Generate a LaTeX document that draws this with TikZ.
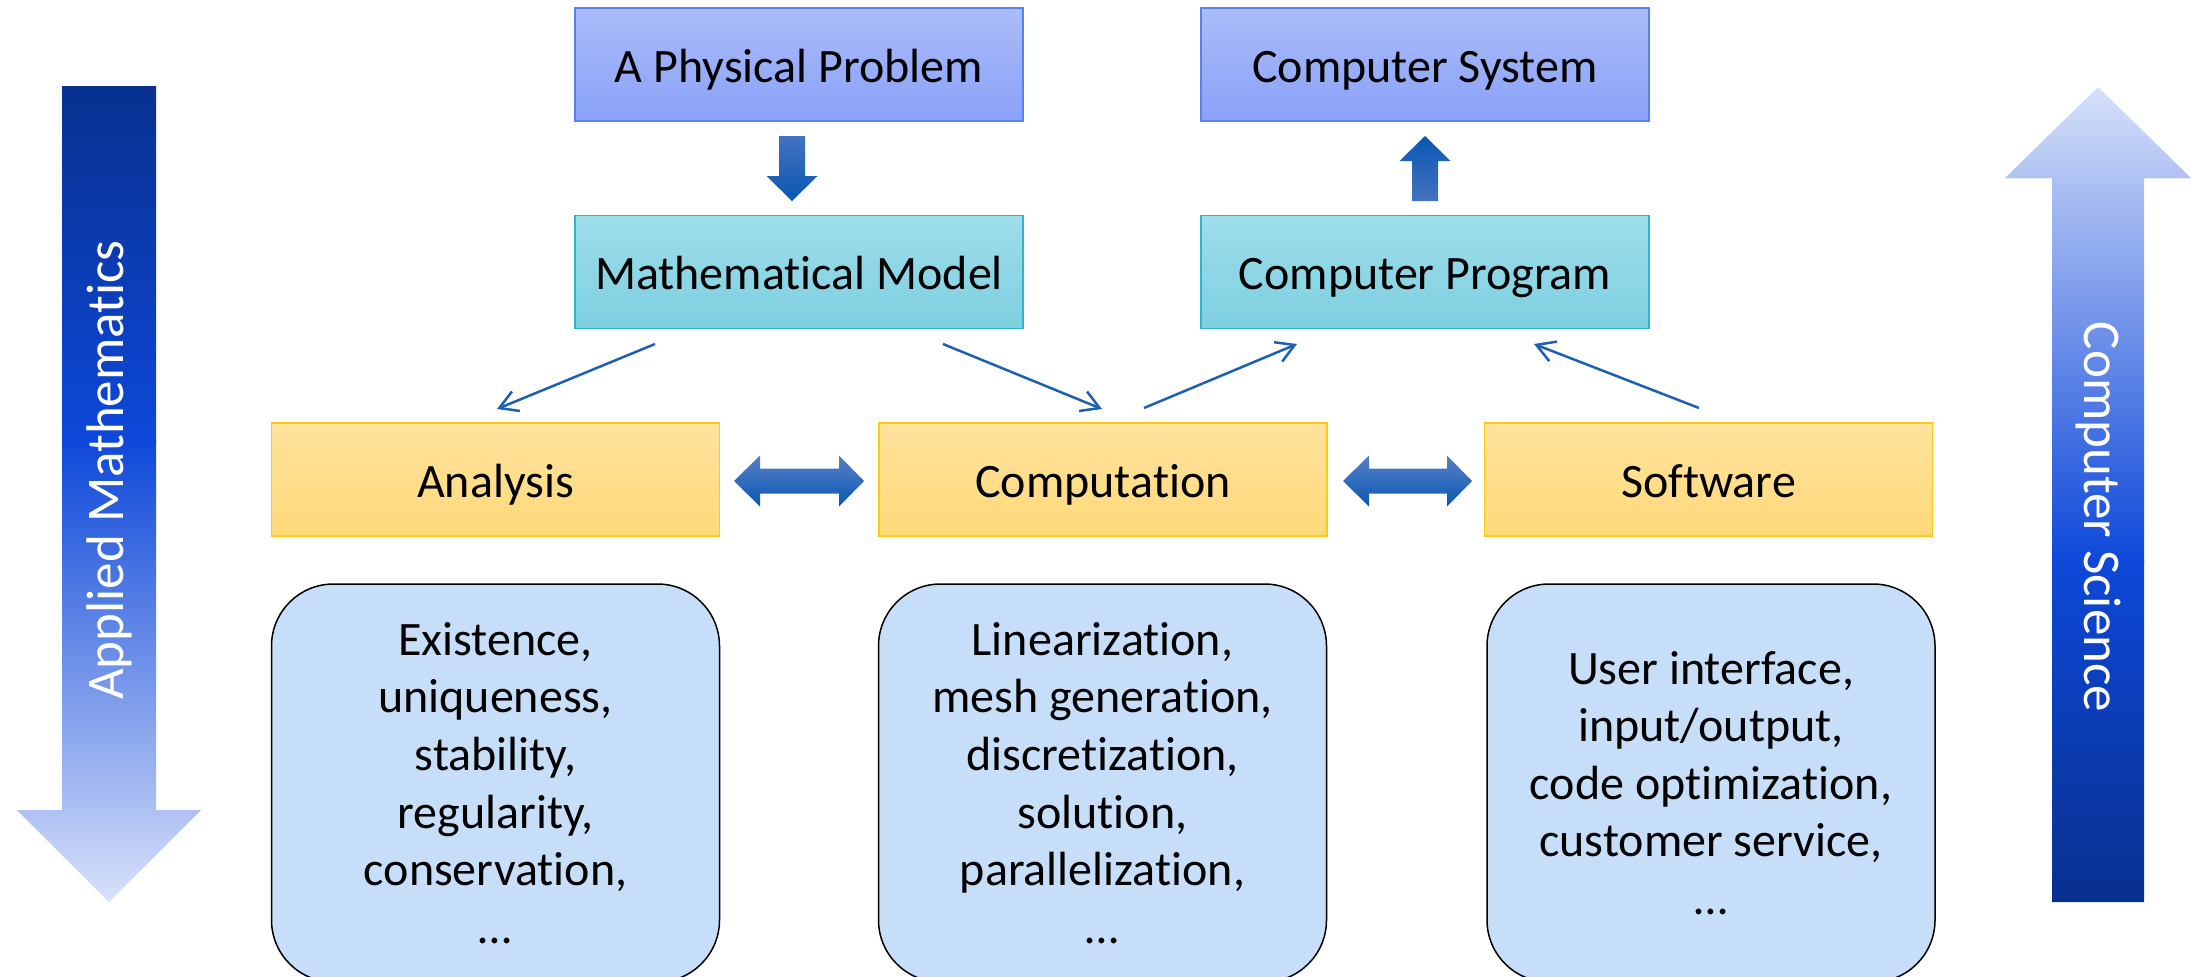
\documentclass[tikz,border=0pt]{standalone}
\usepackage{fontspec}
\setmainfont{Carlito}[Ligatures=NoCommon]
\usetikzlibrary{arrows.meta}

% box colours
\definecolor{physTop}{HTML}{AABCFA}
\definecolor{physBot}{HTML}{8AA1F7}
\definecolor{physLine}{HTML}{5A80EE}
\definecolor{modelTop}{HTML}{9FDDEA}
\definecolor{modelBot}{HTML}{7DCFE0}
\definecolor{modelLine}{HTML}{2FB5CA}
\definecolor{yelTop}{HTML}{FFE39E}
\definecolor{yelBot}{HTML}{FFD979}
\definecolor{yelLine}{HTML}{FFC914}
\definecolor{detailFill}{HTML}{C6DEF8}
% arrow colours
\definecolor{lineBlue}{HTML}{1E5FB0}
\definecolor{blockLight}{HTML}{4472C0}
\definecolor{blockDark}{HTML}{0A57B2}
\definecolor{bigNavy}{HTML}{08308E}
\definecolor{bigBright}{HTML}{0E48D9}
\definecolor{bigPale}{HTML}{AEC1F3}
\definecolor{bigFaint}{HTML}{DAE3FA}

\begin{document}
\begin{tikzpicture}[x=0.5pt,y=-0.5pt,
  txt/.style={font=\fontsize{24}{28.8}\selectfont},
  titlebox/.style={txt, minimum width=224pt, minimum height=56.5pt,
    text height=22pt, text depth=4.5pt,
    inner sep=0pt, line width=0.8pt},
  physbox/.style={titlebox, draw=physLine, top color=physTop, bottom color=physBot},
  modelbox/.style={titlebox, draw=modelLine, top color=modelTop, bottom color=modelBot},
  yelbox/.style={titlebox, draw=yelLine, top color=yelTop, bottom color=yelBot},
  detailbox/.style={txt, draw=black, line width=0.75pt, fill=detailFill,
    rounded corners=31pt, minimum width=224pt, minimum height=199pt,
    inner sep=0pt, align=center},
  thinarrow/.style={draw=lineBlue, line width=1.25pt,
    -{Straight Barb[length=9pt,width=10.5pt]}},
  blockarrow/.style={top color=blockLight, bottom color=blockDark},
  hblockarrow/.style={top color=blockLight!90, bottom color=blockDark},
  sidetext/.style={text=white, font=\fontsize{26.5}{30}\selectfont}
]
\useasboundingbox (0,0) rectangle (2191,976);

% ---- left vertical arrow: Applied Mathematics ----
\begin{scope}
  \clip (62,86) -- (156,86) -- (156,810) -- (201,810) -- (109,902)
        -- (17,810) -- (62,810) -- cycle;
  \shade[top color=bigNavy, bottom color=bigBright] (0,80) rectangle (220,442);
  \shade[top color=bigBright, bottom color=bigPale] (0,440) rectangle (220,812);
  \shade[top color=bigPale, bottom color=bigFaint] (0,810) rectangle (220,905);
\end{scope}
\node[sidetext, rotate=90] (applied) at (109,470) {Applied Mathematics};

% ---- right vertical arrow: Computer Science ----
\begin{scope}
  \clip (2052,902) -- (2052,178) -- (2005,178) -- (2098,87) -- (2191,178)
        -- (2144,178) -- (2144,902) -- cycle;
  \shade[top color=bigFaint, bottom color=bigPale] (1990,80) rectangle (2200,180);
  \shade[top color=bigPale, bottom color=bigBright] (1990,178) rectangle (2200,562);
  \shade[top color=bigBright, bottom color=bigNavy] (1990,560) rectangle (2200,905);
\end{scope}
\node[sidetext, rotate=-90] (cs) at (2098,517) {Computer Science};

% ---- boxes ----
\node[physbox] (phys) at (799,64.5) {A Physical Problem};
\node[physbox] (csys) at (1425,64.5) {Computer System};
\node[modelbox] (model) at (799,272) {Mathematical Model};
\node[modelbox] (prog) at (1425,272) {Computer Program};
\node[yelbox] (ana) at (495.5,479.5) {Analysis};
\node[yelbox] (comp) at (1103,479.5) {Computation};
\node[yelbox] (soft) at (1708.5,479.5) {Software};

\node[detailbox] (anad) at (495.5,783)
  {Existence,\\uniqueness,\\stability,\\regularity,\\conservation,\\…};
\node[detailbox] (compd) at (1102.5,783)
  {Linearization,\\mesh generation,\\discretization,\\solution,\\parallelization,\\…};
\node[detailbox] (softd) at (1711,783)
  {User interface,\\input/output,\\code optimization,\\customer service,\\…};

% ---- block arrows ----
\shade[blockarrow] (779,136) -- (805,136) -- (805,176) -- (817.5,176)
  -- (792,201) -- (766.5,176) -- (779,176) -- cycle;
\shade[top color=blockDark, bottom color=blockLight] (1412,201) -- (1412,161)
  -- (1399.5,161) -- (1425,136) -- (1450.5,161) -- (1438,161) -- (1438,201) -- cycle;
\shade[hblockarrow] (734,481) -- (760,455.5) -- (760,468.5) -- (839,468.5)
  -- (839,455.5) -- (864,481) -- (839,506.5) -- (839,493.5) -- (760,493.5)
  -- (760,506.5) -- cycle;
\shade[hblockarrow] (1343,481) -- (1369,455.5) -- (1369,468.5) -- (1447,468.5)
  -- (1447,455.5) -- (1472,481) -- (1447,506.5) -- (1447,493.5) -- (1369,493.5)
  -- (1369,506.5) -- cycle;

% ---- thin connectors ----
\coordinate (m1) at (655,344);
\coordinate (a1) at (497,409);
\coordinate (m2) at (943,344);
\coordinate (c1) at (1102,409);
\coordinate (c2) at (1144,408);
\coordinate (p1) at (1297,344);
\coordinate (s1) at (1699,408);
\coordinate (p2) at (1534,344);
\draw[thinarrow] (m1) -- (a1);
\draw[thinarrow] (m2) -- (c1);
\draw[thinarrow] (c2) -- (p1);
\draw[thinarrow] (s1) -- (p2);
\end{tikzpicture}
\end{document}
